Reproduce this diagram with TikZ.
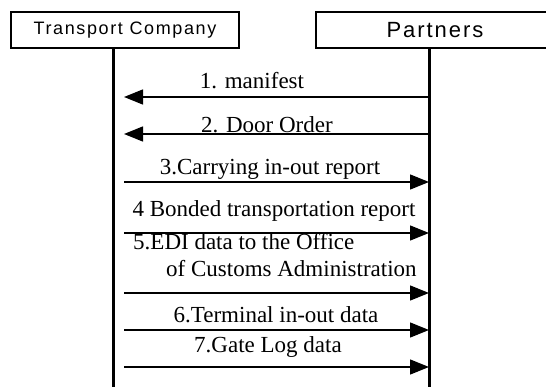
\documentclass[tikz,border=0pt]{standalone}
\usepackage{fontspec}
\setmainfont{Liberation Serif}
\newfontfamily\boxfont[LetterSpace=9]{Liberation Sans}
\newfontfamily\partfont[LetterSpace=9]{Liberation Sans}
\usetikzlibrary{arrows.meta,positioning}

\begin{document}
\begin{tikzpicture}[
    x=1pt, y=-1pt,
    actor/.style={
		rectangle,
		draw=black,
		line width=1.2pt,
		minimum height=36pt,
		inner sep=0pt
	},
	lifeline/.style={
		line width=3pt
	},
	msg/.style={
		line width=1.4pt,
		-{Triangle[length=19pt,width=15pt]}
	},
	msglabel/.style={
		font=\fontsize{23}{27}\selectfont,
		inner sep=0pt,
		anchor=base
	}
  ]
  \useasboundingbox (0,0) rectangle (546,387);
  \clip (0,0) rectangle (546,387);

    % the two parties
  \node [actor, minimum width=228pt, font=\boxfont\fontsize{18}{20}\selectfont] (company) at (125,30) {Transport Company};
  \node [actor, minimum width=238pt, font=\partfont\fontsize{22}{24}\selectfont] (partners) at (435,30) {Partners};

  \coordinate (companyEnd) at (113,387);
  \coordinate (partnersEnd) at (429,387);
  \draw [lifeline] (company.south -| companyEnd) -- (companyEnd);
  \draw [lifeline] (partners.south -| partnersEnd) -- (partnersEnd);

    % message ends on both sides
  \foreach \n/\y in {1/97,2/134,3/182,4/233,5/293,6/330,7/367}{
    \coordinate (c\n) at (124,\y);
    \coordinate (p\n) at (429,\y);
  }

  \draw [msg] (p1) -- (c1);
  \draw [msg] (p2) -- (c2);
  \draw [msg] (c3) -- (p3);
  \draw [msg] (c4) -- (p4);
  \draw [msg] (c5) -- (p5);
  \draw [msg] (c6) -- (p6);
  \draw [msg] (c7) -- (p7);

  \node [msglabel] (m1) at (252,89) {1. manifest};
  \node [msglabel] (m2) at (267,133) {2. Door Order};
  \node [msglabel] (m3) at (270,175) {3.Carrying in-out report};
  \node [msglabel] (m4) at (274,217) {4 Bonded transportation report};
  \node [msglabel, anchor=base west] (m5a) at (133,250) {5.EDI data to the Office};
  \node [msglabel, anchor=base west] (m5b) at (166,277) {of Customs Administration};
  \node [msglabel] (m6) at (276,322) {6.Terminal in-out data};
  \node [msglabel] (m7) at (268,352) {7.Gate Log data};

\end{tikzpicture}
\end{document}
